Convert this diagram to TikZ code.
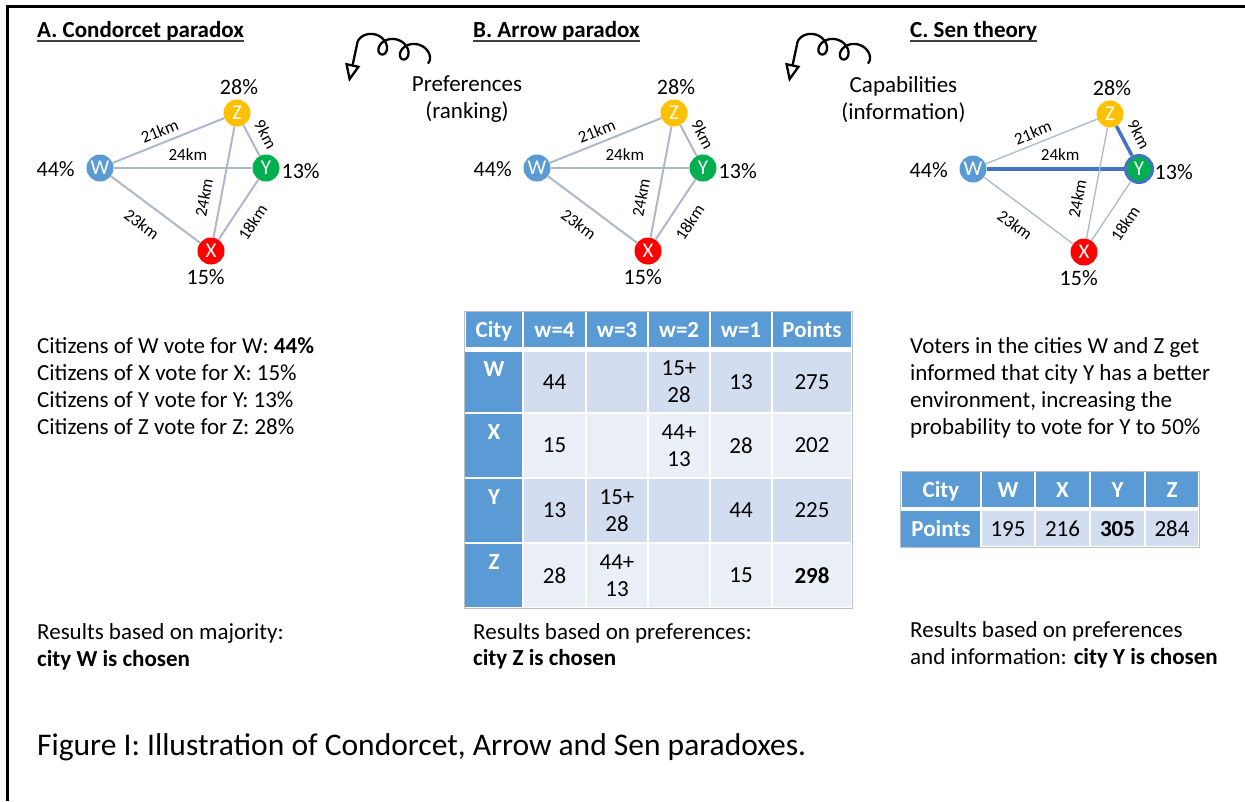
\documentclass[tikz,border=0pt]{standalone}
\usepackage{fontspec}
\setmainfont{Carlito}
\usetikzlibrary{arrows.meta}
\definecolor{nodeW}{HTML}{5B9BD5}
\definecolor{nodeZ}{HTML}{FFC000}
\definecolor{nodeY}{HTML}{00B050}
\definecolor{nodeX}{HTML}{FF0000}
\definecolor{edgec}{HTML}{ADB9CA}
\definecolor{hlblue}{HTML}{4472C4}
\definecolor{hdr}{HTML}{5B9BD5}
\definecolor{rowA}{HTML}{D2DEEF}
\definecolor{rowB}{HTML}{EAEFF7}
\definecolor{tabline}{HTML}{BFBFBF}

\newcommand\citygraph[5]{%
\begin{scope}[shift={#2}]
\node[city,fill=nodeW] (#1W) at (100,168) {W};
\node[city,fill=nodeZ] (#1Z) at (237,113) {Z};
\node[city,fill=nodeY,#5] (#1Y) at (266,168) {Y};
\node[city,fill=nodeX] (#1X) at (211,251) {X};
\node[pct] (#1pW) at (55.7,169) {44\%};
\node[pct] (#1pZ) at (239,86.7) {28\%};
\node[pct] (#1pY) at (300.7,170.7) {13\%};
\node[pct] (#1pX) at (205.7,277.3) {15\%};
\draw[#3] (#1W) -- node[elbl,sloped,above=5pt,pos=0.46] (#1la) {21km} (#1Z);
\draw[#4] (#1W) -- node[elbl,above=7pt,pos=0.535] (#1lb) {24km} (#1Y);
\draw[#4] (#1Z) -- node[elbl,sloped,above=8.5pt,pos=0.535] (#1lc) {9km} (#1Y);
\draw[#3] (#1X) -- node[elbl,sloped,above=10pt,pos=0.33] (#1ld) {24km} (#1Z);
\draw[#3] (#1W) -- node[elbl,sloped,below=13pt,pos=0.48] (#1le) {23km} (#1X);
\draw[#3] (#1X) -- node[elbl,sloped,below=12pt,pos=0.46] (#1lf) {18km} (#1Y);
\end{scope}}

\newcommand\curlyarrow[1]{%
\begin{scope}[shift={#1}]
\draw[curl] plot[domain=0.5:17.28, samples=220, variable=\t]
  ({425.7-3.42*\t+9*sin(\t r)}, {55.5-0.8*\t+9*cos(\t r)}) -- (349,82);
\end{scope}}

\begin{document}
\begin{tikzpicture}[x=1pt,y=-1pt,
  body/.style={font=\fontsize{23}{27}\selectfont, inner sep=0pt, anchor=base west},
  ttl/.style={font=\fontsize{23}{27}\selectfont\bfseries, inner sep=0pt, anchor=base west},
  ul/.style={line width=1.4pt, black!75},
  city/.style={circle, minimum size=27pt, inner sep=0pt, text=white, font=\fontsize{21}{24}\selectfont},
  pct/.style={font=\fontsize{22}{26}\selectfont, inner sep=0pt},
  elbl/.style={font=\fontsize{17}{20}\selectfont, inner sep=0pt},
  edgeAB/.style={draw=edgec, line width=2pt},
  edgeC/.style={draw=edgec, line width=1.3pt},
  edgeHL/.style={draw=hlblue, line width=3.5pt},
  curl/.style={line width=2.3pt, line cap=round, line join=round, -{Triangle[open,length=18pt,width=15pt,line width=2.3pt]}},
  cell/.style={font=\fontsize{23}{27}\selectfont, inner sep=0pt, align=center},
  hcell/.style={font=\fontsize{23}{27}\selectfont\bfseries, inner sep=0pt, text=white, anchor=base},
  rlbl/.style={font=\fontsize{23}{27}\selectfont\bfseries, inner sep=0pt, text=white}
]
\useasboundingbox (0,0) rectangle (1245,801);
\fill[white] (0,0) rectangle (1245,801);
\draw[line width=3pt] (7.5,801) -- (7.5,6.5) -- (1245,6.5);

% titles
\node[ttl] (tA) at (37,37) {A. Condorcet paradox};
\node[ttl] (tB) at (473,37) {B. Arrow paradox};
\node[ttl] (tC) at (910,37) {C. Sen theory};
\foreach \n in {tA,tB,tC} \draw[ul] ([yshift=-4pt]\n.base west) -- ([yshift=-4pt]\n.base east);

% curly arrows
\curlyarrow{(0,0)}
\curlyarrow{(440,0)}
\node[body, anchor=base, align=center] (pref) at (467,118) {Preferences\\(ranking)};
\node[body, anchor=base, align=center] (capa) at (903.5,119) {Capabilities\\(information)};

% graphs
\citygraph{a}{(0,0)}{edgeAB}{edgeAB}{}
\citygraph{b}{(437,0)}{edgeAB}{edgeAB}{}
\citygraph{c}{(873,1)}{edgeC}{edgeHL}{draw=hlblue,line width=3pt}

% column A text
\node[body] (a1) at (37,353) {Citizens of W vote for W: \textbf{44\%}};
\node[body] (a2) at (37,380) {Citizens of X vote for X: 15\%};
\node[body] (a3) at (37,407) {Citizens of Y vote for Y: 13\%};
\node[body] (a4) at (37,434) {Citizens of Z vote for Z: 28\%};
\node[body] (a5) at (37,639) {Results based on majority:};
\node[body] (a6) at (37,666) {\textbf{city W is chosen}};

% column B table
\fill[white] (465,312) rectangle (852,608);
\draw[tabline, line width=1pt] (464.5,311.5) rectangle (852.5,608.5);
\foreach \xa/\xb in {465/523,523/586,586/648,648/710,710/772,772/852}
  \fill[hdr] (\xa+1,312) rectangle (\xb-1,347);
\foreach \ya/\yb/\cc in {351/413/rowA,413/478/rowB,478/543/rowA,543/608/rowB}{
  \fill[hdr] (465,\ya+1) rectangle (522,\yb-1);
  \foreach \xa/\xb in {523/586,586/648,648/710,710/772,772/852}
    \fill[\cc] (\xa+1,\ya+1) rectangle (\xb-1,\yb-1);
}
\node[hcell] (bh1) at (494,337) {City};
\node[hcell] (bh2) at (554.5,337) {w=4};
\node[hcell] (bh3) at (617,337) {w=3};
\node[hcell] (bh4) at (679,337) {w=2};
\node[hcell] (bh5) at (741,337) {w=1};
\node[hcell] (bh6) at (812,337) {Points};
\node[rlbl] (brW) at (494,369) {W};
\node[rlbl] (brX) at (494,432) {X};
\node[rlbl] (brY) at (494,497) {Y};
\node[rlbl] (brZ) at (494,562) {Z};
\node[cell] (bW1) at (554.5,382) {44};
\node[cell] (bW3) at (679,382) {15+\\28};
\node[cell] (bW4) at (741,382) {13};
\node[cell] (bW5) at (812,382) {275};
\node[cell] (bX1) at (554.5,445.5) {15};
\node[cell] (bX3) at (679,445.5) {44+\\13};
\node[cell] (bX4) at (741,445.5) {28};
\node[cell] (bX5) at (812,445.5) {202};
\node[cell] (bY1) at (554.5,510.5) {13};
\node[cell] (bY2) at (617,510.5) {15+\\28};
\node[cell] (bY4) at (741,510.5) {44};
\node[cell] (bY5) at (812,510.5) {225};
\node[cell] (bZ1) at (554.5,575.5) {28};
\node[cell] (bZ2) at (617,575.5) {44+\\13};
\node[cell] (bZ4) at (741,575.5) {15};
\node[cell] (bZ5) at (812,575.5) {\textbf{298}};
\node[body] (b5) at (473,639) {Results based on preferences:};
\node[body] (b6) at (473,665) {\textbf{city Z is chosen}};

% column C
\node[body] (c1) at (910,353) {Voters in the cities W and Z get};
\node[body] (c2) at (910,380) {informed that city Y has a better};
\node[body] (c3) at (910,407) {environment, increasing the};
\node[body] (c4) at (910,434) {probability to vote for Y to 50\%};
\fill[white] (901,472) rectangle (1199,547);
\draw[tabline, line width=1pt] (900.5,471.5) rectangle (1199.5,547.5);
\foreach \xa/\xb in {901/981,981/1035,1035/1090,1090/1145,1145/1199}
  \fill[hdr] (\xa+1,472) rectangle (\xb-1,507);
\fill[hdr] (901,511) rectangle (980,547);
\foreach \xa/\xb in {981/1035,1035/1090,1090/1145,1145/1199}
  \fill[rowA] (\xa+1,511) rectangle (\xb-1,546);
\node[hcell] (ch1) at (941,497) {City};
\node[hcell] (ch2) at (1008,497) {W};
\node[hcell] (ch3) at (1062.5,497) {X};
\node[hcell] (ch4) at (1117.5,497) {Y};
\node[hcell] (ch5) at (1172,497) {Z};
\node[hcell] (cp1) at (941,536) {Points};
\node[cell, anchor=base] (cp2) at (1008,536) {195};
\node[cell, anchor=base] (cp3) at (1062.5,536) {216};
\node[cell, anchor=base] (cp4) at (1117.5,536) {\textbf{305}};
\node[cell, anchor=base] (cp5) at (1172,536) {284};
\node[body] (c5) at (910,637) {Results based on preferences};
\node[body] (c6) at (910,664) {and information: \textbf{city Y is chosen}};

% caption
\node[body, font=\fontsize{31.5}{37}\selectfont] (cap) at (37,755) {Figure I: Illustration of Condorcet, Arrow and Sen paradoxes.};
\end{tikzpicture}
\end{document}
